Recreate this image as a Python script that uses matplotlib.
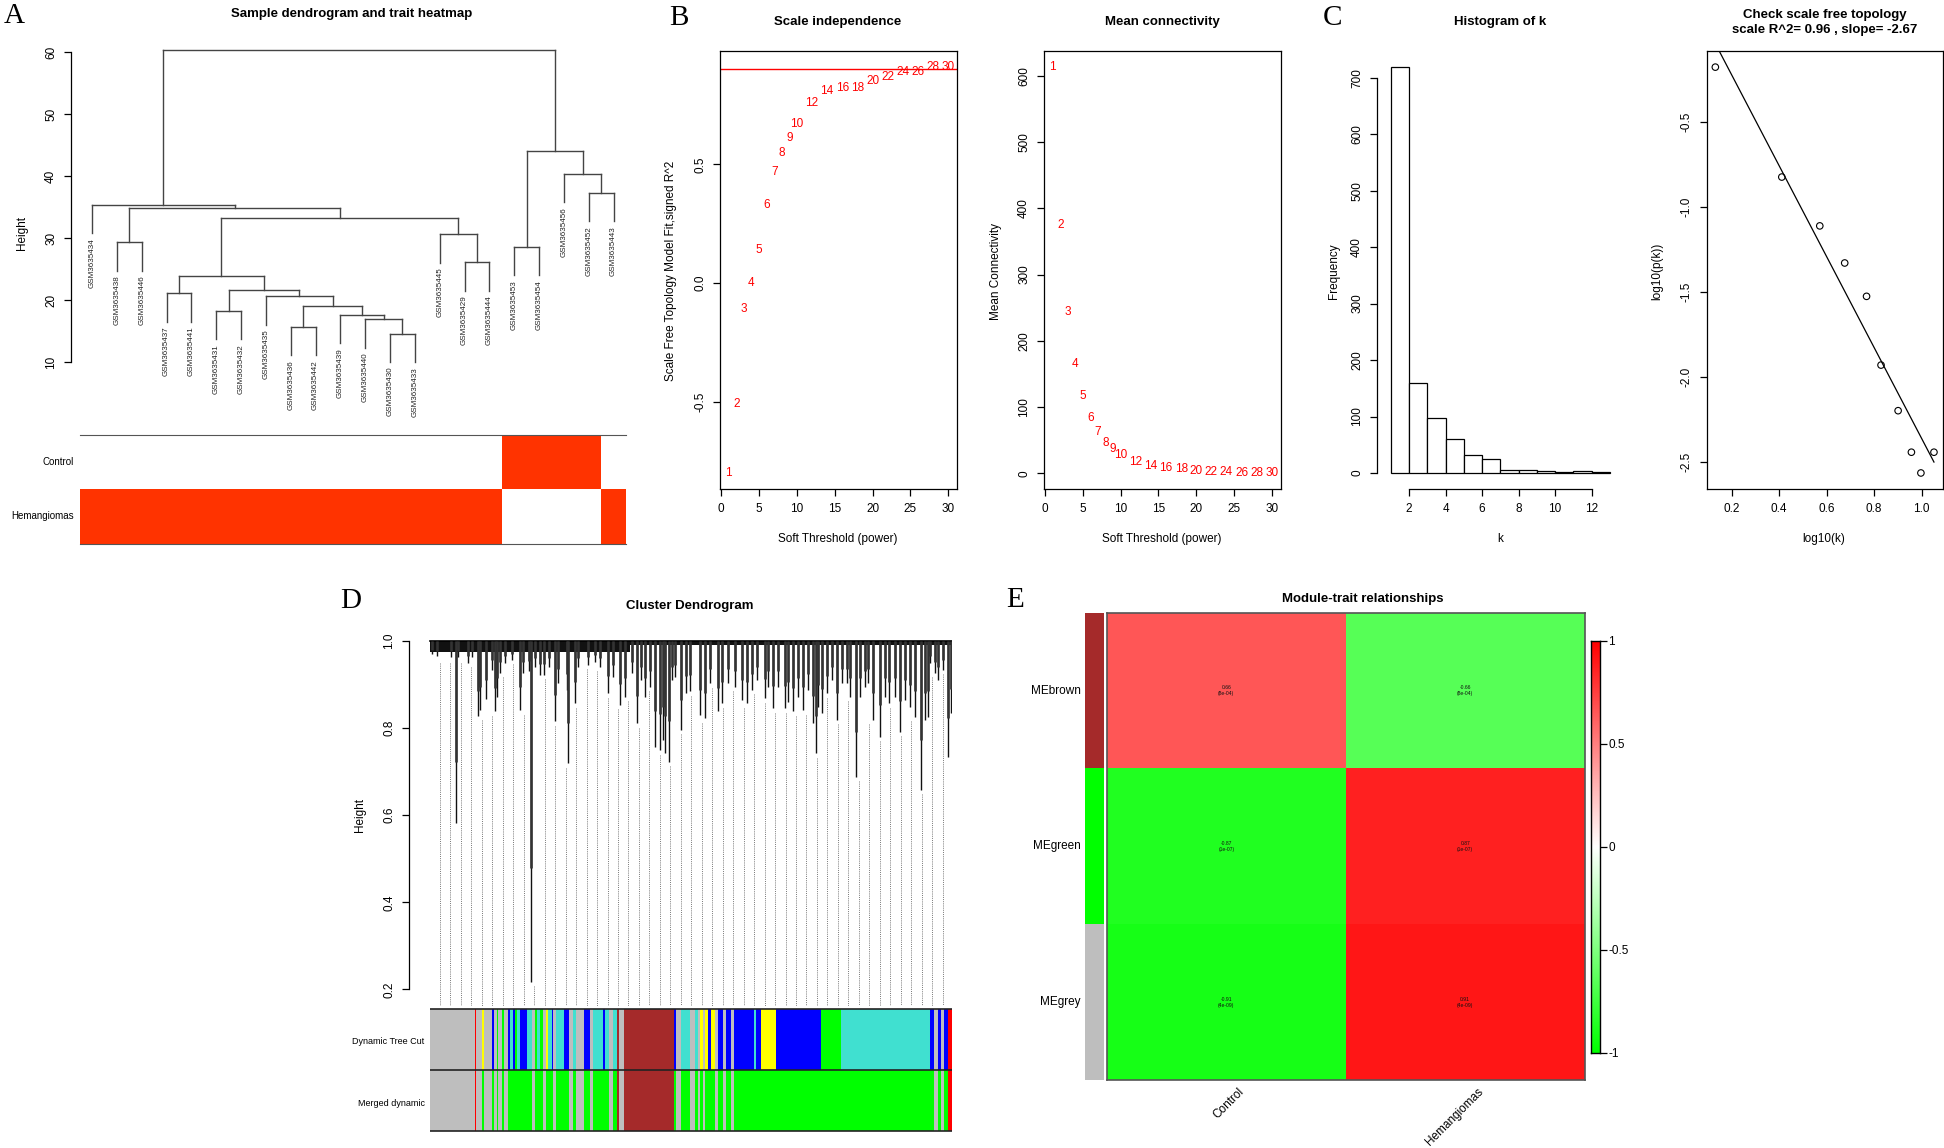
import numpy as np
import matplotlib
matplotlib.use("Agg")
import matplotlib.pyplot as plt
from matplotlib.colors import LinearSegmentedColormap

# ---------------- A: sample dendrogram + trait heatmap ----------------
sample_ids = ["GSM3635434", "GSM3635438", "GSM3635446", "GSM3635437", "GSM3635441",
              "GSM3635431", "GSM3635432", "GSM3635435", "GSM3635436", "GSM3635442",
              "GSM3635439", "GSM3635440", "GSM3635430", "GSM3635433", "GSM3635445",
              "GSM3635429", "GSM3635444", "GSM3635453", "GSM3635454", "GSM3635456",
              "GSM3635452", "GSM3635443"]
# hclust style merges: negative = leaf (1-based, in drawn order), positive = earlier merge
merge_a = [-13, -9, -12, -11, -6, 2, -8, -4, 5, 8, -16, -18, -2, -15, 10, 13, -1, -21, -20, 12, 17]
merge_b = [-14, -10, 1, 3, -7, 4, 6, -5, 7, 9, -17, -19, -3, 11, 14, 15, 16, -22, 18, 19, 20]
merge_h = [14.6, 15.7, 16.9, 17.6, 18.3, 19.0, 20.6, 21.1, 21.6, 23.9, 26.1, 28.6, 29.3,
           30.6, 33.3, 34.9, 35.4, 37.3, 40.4, 44.1, 60.4]
trait_names = ["Control", "Hemangiomas"]
is_control = [0, 0, 0, 0, 0, 0, 0, 0, 0, 0, 0, 0, 0, 0, 0, 0, 0, 1, 1, 1, 1, 0]

# ---------------- B: soft threshold ----------------
powers = [1, 2, 3, 4, 5, 6, 7, 8, 9, 10, 12, 14, 16, 18, 20, 22, 24, 26, 28, 30]
sft_r2 = [-0.80, -0.51, -0.11, 0.00, 0.14, 0.33, 0.47, 0.55, 0.61, 0.67, 0.76, 0.81,
          0.82, 0.82, 0.85, 0.87, 0.89, 0.89, 0.91, 0.91]
mean_k = [613, 374, 243, 165, 116, 83, 62, 46, 36, 28, 17, 11, 8, 6, 3.2, 2.2, 1.6,
          1.1, 1.0, 0.8]
r2_cut = 0.90

# ---------------- C: connectivity distribution ----------------
k_edges = [1, 2, 3, 4, 5, 6, 7, 8, 9, 10, 11, 12, 13]
k_counts = [719, 160, 98, 60, 31, 24, 6, 6, 4, 2, 4, 1]
log_k = [0.131, 0.411, 0.571, 0.676, 0.768, 0.829, 0.901, 0.957, 0.997, 1.052]
log_pk = [-0.178, -0.824, -1.111, -1.329, -1.525, -1.929, -2.197, -2.441, -2.563, -2.441]
fit_r2 = 0.96
fit_slope = -2.67
fit_intercept = 0.31

# ---------------- D: gene dendrogram + module colours ----------------
# lowest point of visible branches (position along the leaf axis, 0..522)
branch_pos = [2, 7, 21, 26, 28, 38, 42, 48, 50, 56, 62, 65, 67, 70, 75, 82, 90, 93, 99,
              101, 105, 110, 114, 119, 125, 128, 137, 138, 145, 148, 158, 165, 170, 178,
              183, 190, 195, 202, 207, 211, 215, 220, 225, 230, 233, 235, 239, 242, 245,
              251, 256, 260, 270, 275, 280, 288, 292, 298, 305, 312, 317, 322, 327, 335,
              338, 343, 348, 355, 358, 363, 368, 373, 378, 383, 386, 388, 392, 397, 402,
              407, 412, 417, 420, 426, 430, 435, 438, 443, 450, 455, 459, 465, 470, 475,
              480, 485, 491, 495, 498, 500, 505, 508, 513, 518, 521]
branch_low = [0.970, 0.966, 0.964, 0.583, 0.964, 0.949, 0.964, 0.828, 0.841, 0.866, 0.933,
              0.838, 0.872, 0.926, 0.949, 0.956, 0.841, 0.926, 0.930, 0.217, 0.941, 0.922,
              0.922, 0.941, 0.815, 0.903, 0.887, 0.719, 0.857, 0.941, 0.945, 0.952, 0.941,
              0.880, 0.918, 0.853, 0.872, 0.926, 0.811, 0.910, 0.872, 0.895, 0.757, 0.749,
              0.772, 0.742, 0.723, 0.910, 0.918, 0.796, 0.880, 0.884, 0.830, 0.822, 0.903,
              0.838, 0.857, 0.903, 0.895, 0.864, 0.857, 0.887, 0.910, 0.868, 0.895, 0.845,
              0.895, 0.845, 0.860, 0.838, 0.872, 0.841, 0.887, 0.811, 0.742, 0.849, 0.834,
              0.880, 0.910, 0.819, 0.903, 0.903, 0.872, 0.688, 0.872, 0.895, 0.903, 0.819,
              0.780, 0.872, 0.857, 0.872, 0.792, 0.864, 0.849, 0.826, 0.658, 0.819, 0.826,
              0.949, 0.926, 0.910, 0.933, 0.734, 0.834]
dense_from = [0, 200]
dense_to = [200, 522]
dense_low = [0.975, 0.99]

dyn_colors = ["grey", "red", "grey", "yellow", "grey", "blue", "grey", "green", "grey",
              "green", "grey", "blue", "turquoise", "blue", "green", "turquoise", "blue",
              "turquoise", "grey", "green", "turquoise", "green", "grey", "yellow",
              "turquoise", "blue", "grey", "turquoise", "blue", "grey", "turquoise", "grey",
              "blue", "grey", "turquoise", "blue", "turquoise", "grey", "turquoise", "brown",
              "grey", "brown", "blue", "grey", "turquoise", "grey", "turquoise", "grey",
              "yellow", "grey", "yellow", "blue", "yellow", "grey", "blue", "grey", "blue",
              "grey", "blue", "blue", "turquoise", "blue", "yellow", "blue", "green",
              "turquoise", "blue", "grey", "blue", "grey", "blue", "red"]
dyn_widths = [45, 1, 6, 2, 8, 2, 3, 1, 4, 2, 4, 1.5, 3, 2, 2, 3.5, 7, 5, 3, 2, 3, 3, 3, 2,
              4, 1, 3, 8, 5, 4, 3, 8, 6, 3, 10, 2, 4, 4, 4, 1.5, 5.5, 50, 2, 5, 9, 5, 3, 2,
              3, 2, 3, 3, 4, 3, 5, 3, 5, 3, 4, 16, 2, 5, 15, 45, 20, 89, 4, 4, 3, 3, 4, 4]
merge_map = {"grey": "grey", "brown": "brown", "red": "red", "blue": "green",
             "turquoise": "green", "yellow": "green", "green": "green"}
r_colors = {"grey": "#BEBEBE", "red": "#FF0000", "yellow": "#FFFF00", "blue": "#0000FF",
            "green": "#00FF00", "turquoise": "#40E0D0", "brown": "#A52A2A"}

# ---------------- E: module-trait relationships ----------------
modules = ["MEbrown", "MEgreen", "MEgrey"]
module_colors = ["brown", "green", "grey"]
traits = ["Control", "Hemangiomas"]
cor_control = [0.66, -0.87, -0.91]
cor_hem = [-0.66, 0.87, 0.91]
p_control = ["8e-04", "1e-07", "4e-09"]
p_hem = ["8e-04", "1e-07", "4e-09"]

# ---------------------------------------------------------------------
W, H = 1944, 1148
plt.rcParams['font.family'] = ['Liberation Sans', 'DejaVu Sans']
plt.rcParams['axes.unicode_minus'] = False
fig = plt.figure(figsize=(W / 100, H / 100), dpi=100)


def px_axes(x0, y0, x1, y1):
    return fig.add_axes([x0 / W, 1 - y1 / H, (x1 - x0) / W, (y1 - y0) / H])


def fig_text(x, y, s, **kw):
    kw.setdefault('ha', 'center')
    kw.setdefault('va', 'center')
    fig.text(x / W, 1 - y / H, s, **kw)


def r_axes(ax, box=True):
    for s in ax.spines.values():
        s.set_visible(box)
        s.set_linewidth(0.9)
    ax.tick_params(direction='out', length=5, width=0.9, labelsize=8.5, pad=5)
    ax.tick_params(axis='y', labelrotation=90)
    for lab in ax.get_yticklabels():
        lab.set_va('center')


def panel_letter(x, y, s):
    fig_text(x, y, s, family=['Liberation Serif', 'DejaVu Serif'], fontsize=21)


title_kw = dict(fontsize=9.5, fontweight='bold')

# ================= A =================
panel_letter(14, 16, "A")
fig_text(352, 14, "Sample dendrogram and trait heatmap", **title_kw)
axa = px_axes(71, 40, 626, 420)
axa.set_xlim(-0.346, len(sample_ids))
axa.set_ylim(0.65, 61.94)
hang = 0.1 * (max(merge_h) - min(merge_h))
node_x = {}
for i, (a, b, h) in enumerate(zip(merge_a, merge_b, merge_h), start=1):
    xs = []
    for c in (a, b):
        if c < 0:
            x = -c - 0.5
            axa.plot([x, x], [h, h - hang], color='#444444', lw=1)
            axa.text(x, h - hang - 0.8, sample_ids[-c - 1], rotation=90, ha='center',
                     va='top', fontsize=5.8, color='#222222')
        else:
            x = node_x[c]
            axa.plot([x, x], [h, merge_h[c - 1]], color='#444444', lw=1)
        xs.append(x)
    axa.plot(xs, [h, h], color='#444444', lw=1)
    node_x[i] = np.mean(xs)
for s in ['top', 'right', 'bottom']:
    axa.spines[s].set_visible(False)
axa.spines['left'].set_bounds(10, 60)
axa.set_xticks([])
axa.set_yticks([10, 20, 30, 40, 50, 60])
r_axes(axa, box=False)
axa.spines['left'].set_visible(True)
fig_text(22, 233, "Height", rotation=90, fontsize=8.5)

axh = px_axes(79.6, 435, 625.7, 543.7)
ctrl = np.array(is_control)
rows = [ctrl, 1 - ctrl]
for r, vals in enumerate(rows):
    axh.bar(np.arange(len(vals)), 1, bottom=1 - r, width=1, align='edge',
            color=['#FF3300' if v else 'white' for v in vals], linewidth=0)
axh.set_xlim(0, len(ctrl))
axh.set_ylim(0, 2)
axh.set_xticks([])
axh.set_yticks([])
for s in ['left', 'right']:
    axh.spines[s].set_visible(False)
for s in ['top', 'bottom']:
    axh.spines[s].set_color('#555555')
fig_text(74, 462, trait_names[0], ha='right', fontsize=7)
fig_text(74, 516, trait_names[1], ha='right', fontsize=7)

# ================= B =================
panel_letter(679, 18, "B")


def r_lim(vals):
    lo, hi = min(vals), max(vals)
    ext = 0.04 * (hi - lo)
    return lo - ext, hi + ext


axb1 = px_axes(720, 50.9, 957, 489)
axb1.axhline(r2_cut, color='red', lw=1)
for p, v in zip(powers, sft_r2):
    axb1.text(p, v, str(p), color='red', ha='center', va='center', fontsize=8.5)
axb1.set_xlim(r_lim(powers))
axb1.set_ylim(r_lim(sft_r2))
axb1.set_xticks([0, 5, 10, 15, 20, 25, 30])
axb1.set_yticks([-0.5, 0.0, 0.5])
axb1.set_yticklabels(["-0.5", "0.0", "0.5"])
r_axes(axb1)
fig_text(838, 22, "Scale independence", **title_kw)
fig_text(671, 271, "Scale Free Topology Model Fit,signed R^2", rotation=90, fontsize=8.5)
fig_text(838, 539, "Soft Threshold (power)", fontsize=8.5)

axb2 = px_axes(1044, 50.9, 1280.5, 489)
for p, v in zip(powers, mean_k):
    axb2.text(p, v, str(p), color='red', ha='center', va='center', fontsize=8.5)
axb2.set_xlim(r_lim(powers))
axb2.set_ylim(r_lim(mean_k))
axb2.set_xticks([0, 5, 10, 15, 20, 25, 30])
axb2.set_yticks([0, 100, 200, 300, 400, 500, 600])
r_axes(axb2)
fig_text(1162, 22, "Mean connectivity", **title_kw)
fig_text(996, 271, "Mean Connectivity", rotation=90, fontsize=8.5)
fig_text(1162, 539, "Soft Threshold (power)", fontsize=8.5)

# ================= C =================
panel_letter(1332, 18, "C")
axc1 = px_axes(1377, 50.8, 1618, 489.2)
axc1.bar(k_edges[:-1], k_counts, width=np.diff(k_edges), align='edge', color='white',
         edgecolor='black', linewidth=0.9)
axc1.set_xlim(0.247, 13.45)
axc1.set_ylim(r_lim([0] + k_counts))
axc1.set_xticks([2, 4, 6, 8, 10, 12])
axc1.set_yticks([0, 100, 200, 300, 400, 500, 600, 700])
r_axes(axc1, box=False)
axc1.spines['left'].set_visible(True)
axc1.spines['bottom'].set_visible(True)
axc1.spines['left'].set_bounds(0, 700)
axc1.spines['bottom'].set_bounds(2, 12)
fig_text(1500, 22, "Histogram of k", **title_kw)
fig_text(1334, 271, "Frequency", rotation=90, fontsize=8.5)
fig_text(1500, 539, "k", fontsize=8.5)

axc2 = px_axes(1706.6, 50.9, 1942.7, 489.2)
axc2.scatter(log_k, log_pk, s=22, facecolors='none', edgecolors='black', linewidths=0.8)
fx = np.array([min(log_k), max(log_k)])
axc2.plot(fx, fit_intercept + fit_slope * fx, color='black', lw=0.9)
axc2.set_xlim(r_lim(log_k))
axc2.set_ylim(r_lim(log_pk))
axc2.set_xticks([0.2, 0.4, 0.6, 0.8, 1.0])
axc2.set_yticks([-2.5, -2.0, -1.5, -1.0, -0.5])
r_axes(axc2)
fig_text(1825, 22.5, "Check scale free topology\nscale R^2= %.2f , slope= %.2f" % (fit_r2, fit_slope),
         linespacing=1.25, **title_kw)
fig_text(1657, 271, "log10(p(k))", rotation=90, fontsize=8.5)
fig_text(1824, 539, "log10(k)", fontsize=8.5)

# ================= D =================
panel_letter(351, 601, "D")
fig_text(690, 606, "Cluster Dendrogram", **title_kw)
n_leaf = sum(dyn_widths)
axd = px_axes(409, 630, 952, 1006)
axd.set_xlim(-21, n_leaf)
axd.set_ylim(0.162, 1.025)
bp = np.array(branch_pos)
bl = np.array(branch_low)
guide_x = np.arange(10, n_leaf, 10.47)
for gx in guide_x:
    near = bl[np.abs(bp - gx) < 4]
    top = min(near.min() if near.size else 0.96, 0.96) - 0.01
    axd.plot([gx, gx], [top, 0.162], ls=(0, (1, 1.2)), color='#777777', lw=0.7)
for a, b, lo in zip(dense_from, dense_to, dense_low):
    axd.fill_between([a, b], lo, 1.0, color='#111111', lw=0)
axd.plot([0, n_leaf], [1.0, 1.0], color='black', lw=1.2)
for p, lo in zip(branch_pos, branch_low):
    axd.plot([p, p], [1.0, lo], color='#111111', lw=1.0, solid_capstyle='butt')
    axd.plot([p, p], [1.0, (1.0 + 2 * lo) / 3], color='#333333', lw=1.9, solid_capstyle='butt')
for s in ['top', 'right', 'bottom']:
    axd.spines[s].set_visible(False)
axd.spines['left'].set_bounds(0.2, 1.0)
axd.set_xticks([])
axd.set_yticks([0.2, 0.4, 0.6, 0.8, 1.0])
r_axes(axd, box=False)
axd.spines['left'].set_visible(True)
fig_text(360, 815, "Height", rotation=90, fontsize=8.5)

axdb = px_axes(430, 1008, 952, 1132)
starts = np.concatenate([[0], np.cumsum(dyn_widths)[:-1]])
spans = list(zip(starts, dyn_widths))
axdb.broken_barh(spans, (1, 1), facecolors=[r_colors[c] for c in dyn_colors], linewidth=0)
axdb.broken_barh(spans, (0, 1), facecolors=[r_colors[merge_map[c]] for c in dyn_colors],
                 linewidth=0)
for yv in (0, 1, 2):
    axdb.axhline(yv, color='#222222', lw=1.2)
axdb.set_xlim(0, n_leaf)
axdb.set_ylim(-0.01, 2.01)
axdb.axis('off')
fig_text(424.5, 1041, "Dynamic Tree Cut", ha='right', fontsize=6.5)
fig_text(424.5, 1104, "Merged dynamic", ha='right', fontsize=6.5)

# ================= E =================
panel_letter(1015, 600, "E")
fig_text(1363, 599, "Module-trait relationships", **title_kw)
gwr = LinearSegmentedColormap.from_list("greenWhiteRed", ["#00FF00", "#FFFFFF", "#FF0000"])
corr = np.array([cor_control, cor_hem]).T
axe = px_axes(1107, 612.7, 1584.5, 1080)
axe.pcolormesh(corr, cmap=gwr, vmin=-1, vmax=1)
axe.set_xlim(0, len(traits))
axe.set_ylim(len(modules), 0)
axe.set_xticks([])
axe.set_yticks([])
for s in axe.spines.values():
    s.set_color('#555555')
    s.set_linewidth(1.2)
pvals = np.array([p_control, p_hem]).T
for i in range(len(modules)):
    for j in range(len(traits)):
        axe.text(j + 0.5, i + 0.5, "%.2f\n(%s)" % (corr[i, j], pvals[i, j]),
                 ha='center', va='center', fontsize=3.6, color='#111111')
for j, t in enumerate(traits):
    fig_text(1107 + (j + 0.5) * (1584.5 - 1107) / len(traits) + 12, 1086, t, rotation=45,
             ha='right', va='top', fontsize=8.5, rotation_mode='anchor')

axm = px_axes(1084.5, 612.7, 1104, 1080)
axm.barh(np.arange(len(modules)), 1, height=1, align='edge',
         color=[r_colors[c] for c in module_colors], linewidth=0)
axm.set_ylim(len(modules), 0)
axm.set_xlim(0, 1)
axm.axis('off')
for i, m in enumerate(modules):
    fig_text(1080.8, 612.7 + (i + 0.5) * (1080 - 612.7) / len(modules), m, ha='right',
             fontsize=8.5)

axcb = px_axes(1591, 641, 1600, 1052.7)
grad = np.linspace(-1, 1, 256).reshape(-1, 1)
axcb.imshow(grad, aspect='auto', cmap=gwr, origin='lower', extent=(0, 1, -1, 1))
axcb.set_xticks([])
axcb.yaxis.tick_right()
axcb.set_yticks([-1, -0.5, 0, 0.5, 1])
axcb.set_yticklabels(["-1", "-0.5", "0", "0.5", "1"])
axcb.tick_params(direction='out', length=5, width=0.9, labelsize=8.5, pad=1)
for s in axcb.spines.values():
    s.set_linewidth(1.0)

fig.savefig("out.png", dpi=100)
